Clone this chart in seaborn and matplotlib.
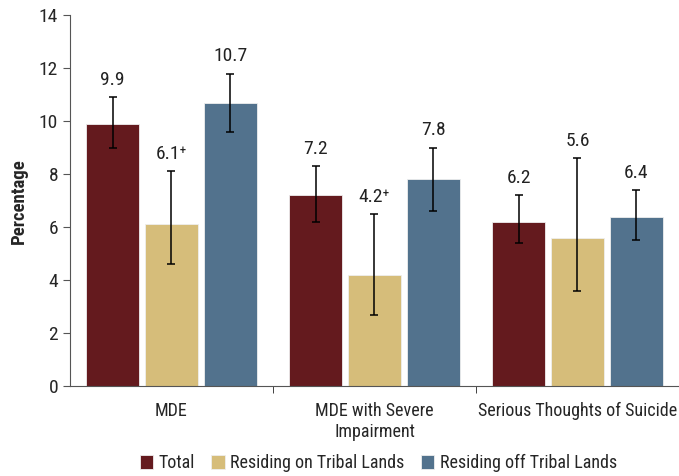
import pandas as pd
import numpy as np
import matplotlib.pyplot as plt
import seaborn as sns
from matplotlib import font_manager

# data
categories = ['MDE', 'MDE with Severe\nImpairment', 'Serious Thoughts of Suicide']
groups = ['Total', 'Residing on Tribal Lands', 'Residing off Tribal Lands']
total = [9.9, 7.2, 6.2]
on_tribal = [6.1, 4.2, 5.6]
off_tribal = [10.7, 7.8, 6.4]
total_lo = [9.0, 6.2, 5.4]
total_hi = [10.9, 8.3, 7.2]
on_lo = [4.6, 2.7, 3.6]
on_hi = [8.1, 6.5, 8.6]
off_lo = [9.6, 6.6, 5.5]
off_hi = [11.8, 9.0, 7.4]
labels_total = ['9.9', '7.2', '6.2']
labels_on = ['6.1\u207a', '4.2\u207a', '5.6']
labels_off = ['10.7', '7.8', '6.4']

colors = ['#641a1e', '#d6bd7a', '#52728d']

sns.set_style('white')

# pick a narrow font if one is around
names = {f.name for f in font_manager.fontManager.ttflist}
fam, fs = 'Liberation Sans', 11
for cand in ['Liberation Sans Narrow', 'DejaVu Sans Condensed', 'Roboto Condensed']:
    if cand in names:
        fam, fs = cand, 13
        break
plt.rcParams['font.family'] = [fam, 'DejaVu Sans']

df = pd.DataFrame({
    'Category': categories * 3,
    'Group': [g for g in groups for _ in categories],
    'Value': total + on_tribal + off_tribal,
    'Lo': total_lo + on_lo + off_lo,
    'Hi': total_hi + on_hi + off_hi,
    'Label': labels_total + labels_on + labels_off,
})

fig = plt.figure(figsize=(6.79, 4.76), dpi=100)
ax = fig.add_axes([0.103, 0.189, 0.897, 0.779])
sns.barplot(data=df, x='Category', y='Value', hue='Group', palette=colors,
            saturation=1, width=0.87, gap=0.1, edgecolor='#eeeeee', linewidth=0.6, ax=ax)

# error bars and value labels, placed on the drawn bars
bars = [p for p in ax.patches if p.get_height() > 0][:len(df)]
for bar, (_, row) in zip(bars, df.iterrows()):
    xc = bar.get_x() + bar.get_width() / 2
    ax.errorbar(xc, row['Value'],
                yerr=[[row['Value'] - row['Lo']], [row['Hi'] - row['Value']]],
                fmt='none', ecolor='black', elinewidth=1.1, capsize=3, capthick=1.1)
    ax.annotate(row['Label'], (xc, row['Hi']), xytext=(0, 6), textcoords='offset points',
                ha='center', va='bottom', fontsize=fs + 1, color='#222222')

ax.set_xlim(-0.5, 2.5)
ax.set_ylim(0, 14)
ax.set_yticks(range(0, 15, 2))
ax.set_xlabel('')
ax.set_ylabel('Percentage', fontsize=fs + 0.5, fontweight='bold', labelpad=8)
ax.tick_params(axis='y', labelsize=fs + 1, left=True, length=5, color='#555555')
ax.set_xticks([0, 1, 2])
ax.set_xticklabels(categories, fontsize=fs)
ax.tick_params(axis='x', bottom=False, pad=8)
ax.set_xticks([0.5, 1.5], minor=True)
ax.tick_params(axis='x', which='minor', bottom=True, length=5, color='#222222')
for s in ['top', 'right']:
    ax.spines[s].set_visible(False)
for s in ['left', 'bottom']:
    ax.spines[s].set_color('#555555')

ax.legend(loc='center', bbox_to_anchor=(0.557, 0.027), bbox_transform=fig.transFigure,
          ncol=3, frameon=False, fontsize=fs, handlelength=0.75, handleheight=0.75,
          handletextpad=0.3, columnspacing=0.9, borderaxespad=0, borderpad=0)

plt.savefig('out.png', dpi=100)
